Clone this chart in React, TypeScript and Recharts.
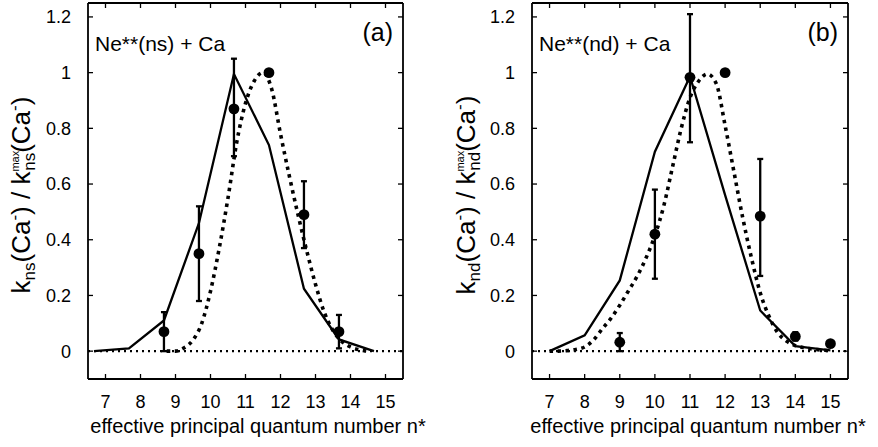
import { ComposedChart, ErrorBar, Line, ReferenceLine, Scatter, XAxis, YAxis } from "recharts";

const FONT = '"Liberation Sans", Arial, Helvetica, sans-serif';

const X_TICKS = [7, 8, 9, 10, 11, 12, 13, 14, 15];
const Y_TICKS = [0, 0.2, 0.4, 0.6, 0.8, 1, 1.2];

// (a) Ne**(ns) + Ca
const nsExpX = [8.67, 9.67, 10.67, 11.67, 12.67, 13.67];
const nsExpY = [0.07, 0.35, 0.87, 1.0, 0.49, 0.07];
const nsErrLo = [0.07, 0.17, 0.17, 0, 0.12, 0.06];
const nsErrHi = [0.07, 0.17, 0.18, 0, 0.12, 0.06];
const nsSolidX = [6.67, 7.67, 8.67, 9.67, 10.67, 11.67, 12.67, 13.67, 14.67];
const nsSolidY = [0.0, 0.01, 0.11, 0.46, 0.995, 0.74, 0.224, 0.042, 0.0];
const nsDotX = [8.75, 9, 9.25, 9.5, 9.75, 10, 10.25, 10.5, 10.75, 11, 11.25, 11.5, 11.75, 12, 12.25, 12.5, 12.75, 13, 13.25, 13.5, 13.75, 14, 14.25, 14.5];
const nsDotY = [0, 0, 0.012, 0.04, 0.1, 0.215, 0.37, 0.55, 0.75, 0.89, 0.97, 1.0, 0.94, 0.78, 0.63, 0.49, 0.36, 0.24, 0.14, 0.074, 0.035, 0.015, 0.005, 0];

// (b) Ne**(nd) + Ca
const ndExpX = [9, 10, 11, 12, 13, 14, 15];
const ndExpY = [0.032, 0.42, 0.983, 1.0, 0.485, 0.053, 0.027];
const ndErrLo = [0.032, 0.16, 0.233, 0, 0.215, 0.015, 0];
const ndErrHi = [0.033, 0.16, 0.227, 0, 0.205, 0.015, 0];
const ndSolidX = [7, 8, 9, 10, 11, 12, 13, 14, 15];
const ndSolidY = [0.0, 0.057, 0.254, 0.716, 0.986, 0.56, 0.146, 0.018, 0.003];
const ndDotX = [7, 7.25, 7.5, 7.75, 8, 8.25, 8.5, 8.75, 9, 9.25, 9.5, 9.75, 10, 10.25, 10.5, 10.75, 11, 11.25, 11.5, 11.75, 12, 12.25, 12.5, 12.75, 13, 13.25, 13.5, 13.75, 14, 14.25, 14.5, 14.75, 15];
const ndDotY = [0, 0, 0.002, 0.006, 0.015, 0.04, 0.08, 0.118, 0.165, 0.217, 0.27, 0.335, 0.415, 0.52, 0.66, 0.8, 0.91, 0.97, 0.995, 0.96, 0.81, 0.645, 0.48, 0.335, 0.21, 0.125, 0.066, 0.036, 0.02, 0.012, 0.007, 0.004, 0.002];

const toPoints = (xs: number[], ys: number[]) => xs.map((x, i) => ({ x, y: ys[i] }));

type PanelProps = {
  left: number;
  width: number;
  marginLeft: number;
  marginRight: number;
  tag: string;
  legend: string;
  sub: string;
  exp: { x: number; y: number; err: number[] }[];
  solid: { x: number; y: number }[];
  dotted: { x: number; y: number }[];
};

function YTitle({ cx, cy, sub }: { cx: number; cy: number; sub: string }) {
  return (
    <text
      x={cx}
      y={cy}
      transform={`rotate(-90 ${cx} ${cy})`}
      textAnchor="middle"
      fontSize={26}
      fontFamily={FONT}
      fill="#000"
    >
      k
      <tspan fontSize={17} dy={5}>{sub}</tspan>
      <tspan dy={-5}>(Ca</tspan>
      <tspan fontSize={17} dy={-10}>-</tspan>
      <tspan dy={10}>) / k</tspan>
      <tspan fontSize={11} dy={-11}>max</tspan>
      <tspan fontSize={17} dx={-20} dy={16}>{sub}</tspan>
      <tspan dy={-5}>(Ca</tspan>
      <tspan fontSize={17} dy={-10}>-</tspan>
      <tspan dy={10}>)</tspan>
    </text>
  );
}

function Panel(p: PanelProps) {
  const tickStyle = { fontSize: 18, fontFamily: FONT, fill: "#000" };
  const frame = { stroke: "#000", strokeWidth: 1.8 };
  const tickLine = { stroke: "#000", strokeWidth: 1.3 };
  return (
    <div style={{ position: "absolute", left: p.left, top: 0 }}>
      <ComposedChart
        width={p.width}
        height={447}
        margin={{ top: 2, right: p.marginRight, bottom: 8, left: p.marginLeft }}
      >
        <XAxis
          xAxisId={0}
          type="number"
          dataKey="x"
          domain={[6.5, 15.5]}
          ticks={X_TICKS}
          allowDataOverflow
          height={60}
          tickSize={-5}
          tickMargin={21}
          tick={tickStyle}
          axisLine={frame}
          tickLine={tickLine}
        />
        <XAxis
          xAxisId="top"
          orientation="top"
          type="number"
          dataKey="x"
          domain={[6.5, 15.5]}
          ticks={X_TICKS}
          allowDataOverflow
          height={1}
          tickSize={-5}
          tickFormatter={() => ""}
          axisLine={frame}
          tickLine={tickLine}
        />
        <YAxis
          yAxisId={0}
          type="number"
          domain={[-0.1, 1.25]}
          ticks={Y_TICKS}
          allowDataOverflow
          width={60}
          tickSize={-5}
          tickMargin={22}
          tick={tickStyle}
          axisLine={frame}
          tickLine={tickLine}
        />
        <YAxis
          yAxisId="right"
          orientation="right"
          type="number"
          domain={[-0.1, 1.25]}
          ticks={Y_TICKS}
          allowDataOverflow
          width={1}
          tickSize={-5}
          tickFormatter={() => ""}
          axisLine={frame}
          tickLine={tickLine}
        />
        <ReferenceLine y={0} stroke="#000" strokeWidth={2.2} strokeDasharray="2 4" />
        <Line
          data={p.solid}
          dataKey="y"
          stroke="#000"
          strokeWidth={2.3}
          dot={false}
          activeDot={false}
          isAnimationActive={false}
        />
        <Line
          data={p.dotted}
          dataKey="y"
          type="monotone"
          stroke="#000"
          strokeWidth={3.6}
          strokeDasharray="3.5 4.5"
          dot={false}
          activeDot={false}
          isAnimationActive={false}
        />
        <Scatter
          data={p.exp}
          dataKey="y"
          fill="#000"
          isAnimationActive={false}
          shape={(s: any) => <circle cx={s.cx} cy={s.cy} r={5.4} fill="#000" />}
        >
          <ErrorBar dataKey="err" direction="y" width={3} stroke="#000" strokeWidth={2.3} />
        </Scatter>
        <text x={p.marginLeft + 67} y={51} fontSize={21} fontFamily={FONT} fill="#000">
          {p.legend}
        </text>
        <text x={p.width - p.marginRight - 11} y={41} textAnchor="end" fontSize={25} fontFamily={FONT} fill="#000">
          {p.tag}
        </text>
        <text x={258} y={433} textAnchor="middle" fontSize={20} fontFamily={FONT} fill="#000">
          effective principal quantum number n*
        </text>
        <YTitle cx={p.marginLeft + 2 + (p.marginLeft === 28 ? 0 : 1)} cy={195} sub={p.sub} />
      </ComposedChart>
    </div>
  );
}

const nsExp = nsExpX.map((x, i) => ({ x, y: nsExpY[i], err: [nsErrLo[i], nsErrHi[i]] }));
const ndExp = ndExpX.map((x, i) => ({ x, y: ndExpY[i], err: [ndErrLo[i], ndErrHi[i]] }));

export default function App() {
  return (
    <div style={{ position: "absolute", left: 0, top: 0, width: 878, height: 447, background: "#fff" }}>
      <Panel
        left={0}
        width={440}
        marginLeft={28}
        marginRight={36}
        tag="(a)"
        legend="Ne**(ns) + Ca"
        sub="ns"
        exp={nsExp}
        solid={toPoints(nsSolidX, nsSolidY)}
        dotted={toPoints(nsDotX, nsDotY)}
      />
      <Panel
        left={440}
        width={438}
        marginLeft={32}
        marginRight={29}
        tag="(b)"
        legend="Ne**(nd) + Ca"
        sub="nd"
        exp={ndExp}
        solid={toPoints(ndSolidX, ndSolidY)}
        dotted={toPoints(ndDotX, ndDotY)}
      />
    </div>
  );
}
